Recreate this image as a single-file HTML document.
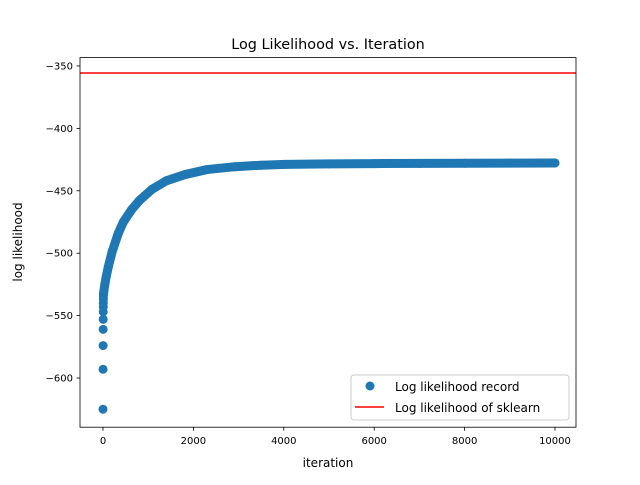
<!DOCTYPE html>
<html><head><meta charset="utf-8"><style>
body{margin:0;background:#fff;}
svg text{font-family:"DejaVu Sans","Liberation Sans",sans-serif;fill:#000;}
</style></head><body>
<svg id="chart" width="640" height="480" viewBox="0 0 640 480" xmlns="http://www.w3.org/2000/svg">
<rect width="640" height="480" fill="#fff"/>
<text x="328" y="49" font-size="14.4" text-anchor="middle">Log Likelihood vs. Iteration</text>
<g id="plot"></g>
<text x="328" y="467" font-size="12" text-anchor="middle">iteration</text>
<text x="22" y="242" font-size="12" text-anchor="middle" transform="rotate(-90 22 242)">log likelihood</text>
<g>
<rect x="351" y="375" width="218" height="45" rx="3" fill="#fff" fill-opacity="0.8" stroke="#ccc"/>
<circle cx="370" cy="386" r="4.5" fill="#1f77b4"/>
<text x="395" y="391" font-size="12">Log likelihood record</text>
<line x1="355" y1="407" x2="384" y2="407" stroke="red" stroke-width="1.5"/>
<text x="395" y="412" font-size="12">Log likelihood of sklearn</text>
</g>
</svg>
<script>
const iterations = [0,1,2,3,4,5,6,7,8,9,10,20,40,70,117,200,339,450,635,800,1077,1400,1814,2300,2920,3500,4027,5000,6000,7000,8000,9000,9999];
const logLik = [-625,-593,-574,-561,-553,-547,-543,-540,-537,-535,-533,-530,-525,-519,-511,-499,-484,-475,-465,-458,-449,-442,-437,-433,-430.7,-429.5,-428.8,-428.4,-428.2,-428.0,-427.9,-427.8,-427.7];
const sklearnValue = [-355.6];
const xTicks = [0,2000,4000,6000,8000,10000];
const yTicks = [-350,-400,-450,-500,-550,-600];

const L=80,R=576,T=57.6,B=427.2;
const xMin=-509,xMax=10465,yMin=-639.4,yMax=-343.3;
const sx=v=>L+(v-xMin)/(xMax-xMin)*(R-L);
const sy=v=>B-(v-yMin)/(yMax-yMin)*(B-T);
const NS="http://www.w3.org/2000/svg";
const g=document.getElementById('plot');
function mk(tag,attrs){const e=document.createElementNS(NS,tag);for(const k in attrs)e.setAttribute(k,attrs[k]);g.appendChild(e);return e;}

// dense band (scatter drawn as thick path through the data from iteration 10 onward)
let d='';
for(let i=10;i<iterations.length;i++){d+=(i===10?'M':'L')+sx(iterations[i]).toFixed(2)+','+sy(logLik[i]).toFixed(2);}
const band=mk('path',{d:d,fill:'none',stroke:'#1f77b4','stroke-width':9,'stroke-linecap':'round','stroke-linejoin':'round'});


for(let i=0;i<iterations.length;i++){
  const c=mk('circle',{cx:sx(iterations[i]),cy:sy(logLik[i]),r:4.5,fill:'#1f77b4'});
  
  
}
const rl=mk('line',{x1:L,x2:R,y1:sy(sklearnValue[0]),y2:sy(sklearnValue[0]),stroke:'red','stroke-width':1.5});



const frame=mk('rect',{x:L,y:T,width:R-L,height:B-T,fill:'none',stroke:'#000','stroke-width':0.8});


xTicks.forEach(v=>{
  const x=sx(v);
  const t=mk('line',{x1:x,x2:x,y1:B,y2:B+3.5,stroke:'#000','stroke-width':0.8});
  
  
  const tx=mk('text',{x:x,y:B+17,'font-size':10,'text-anchor':'middle'});
  tx.textContent=v;
  
  
});
yTicks.forEach(v=>{
  const y=sy(v);
  const t=mk('line',{x1:L-3.5,x2:L,y1:y,y2:y,stroke:'#000','stroke-width':0.8});
  
  
  const tx=mk('text',{x:L-7,y:y+3.5,'font-size':10,'text-anchor':'end'});
  tx.textContent='\u2212'+Math.abs(v);
  
  
});
</script>
</body></html>
